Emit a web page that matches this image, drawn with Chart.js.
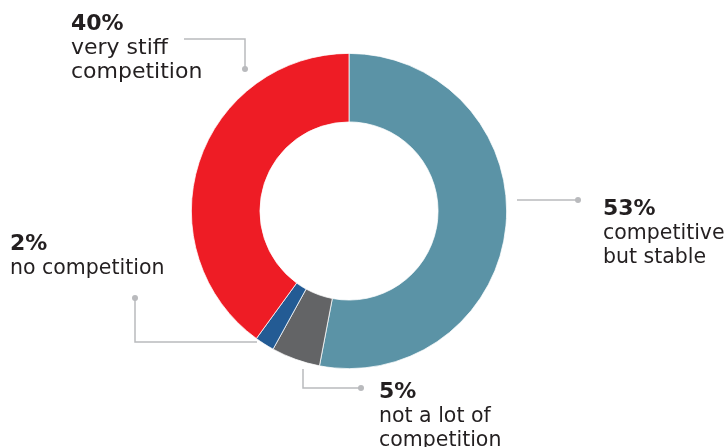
<!DOCTYPE html>
<html lang="en">
<head>
    <meta charset="UTF-8">
    <title>Competition</title>
    <script src="https://cdn.jsdelivr.net/npm/chart.js@4.4.1/dist/chart.umd.min.js"></script>
    <style>
        body {
            margin: 0;
            background: #fff;
        }
        #wrap {
            width: 727px;
            height: 447px;
        }
    </style>
</head>
<body>
    <div id="wrap">
        <canvas id="donut" width="727" height="447"></canvas>
    </div>

    <script>
        // survey answers, clockwise from 12 o'clock
        const categories = ['competitive but stable', 'not a lot of competition', 'no competition', 'very stiff competition'];
        const shares = [53, 5, 2, 40];
        const colors = ['#5b93a6', '#636466', '#235b94', '#ee1c25'];
        // text lines under each percentage
        const captions = [
            ['competitive', 'but stable'],
            ['not a lot of', 'competition'],
            ['no competition'],
            ['very stiff', 'competition']
        ];

        // callout placement relative to the donut centre
        const callouts = [
            { tx: 254, ty: 4, size: 20.5, leader: [[168, -11], [229, -11]] },
            { tx: 30, ty: 187, size: 20.5, leader: [[-46, 158], [-46, 177], [12, 177]] },
            { tx: -339, ty: 39, size: 20.5, leader: [[-92, 131], [-214, 131], [-214, 87]] },
            { tx: -278, ty: -181, size: 22, leader: [[-165, -172], [-104, -172], [-104, -142]] }
        ];

        const calloutPlugin = {
            id: 'callouts',
            afterDraw(chart) {
                const ctx = chart.ctx;
                const arc = chart.getDatasetMeta(0).data[0];
                const cx = arc.x, cy = arc.y;
                ctx.save();
                callouts.forEach((c, i) => {
                    // leader line ending in a dot
                    ctx.strokeStyle = '#b9babd';
                    ctx.lineWidth = 1.5;
                    ctx.beginPath();
                    c.leader.forEach(([dx, dy], k) => {
                        if (k === 0) ctx.moveTo(cx + dx, cy + dy);
                        else ctx.lineTo(cx + dx, cy + dy);
                    });
                    ctx.stroke();
                    const [ex, ey] = c.leader[c.leader.length - 1];
                    ctx.fillStyle = '#b9babd';
                    ctx.beginPath();
                    ctx.arc(cx + ex, cy + ey, 3, 0, Math.PI * 2);
                    ctx.fill();

                    // percentage + caption
                    const x = cx + c.tx, y = cy + c.ty;
                    ctx.fillStyle = '#231f20';
                    ctx.textBaseline = 'alphabetic';
                    ctx.textAlign = 'left';
                    ctx.font = 'bold 22px "DejaVu Sans"';
                    ctx.fillText(shares[i] + '%', x, y);
                    ctx.font = c.size + 'px "DejaVu Sans"';
                    captions[i].forEach((line, j) => {
                        ctx.fillText(line, x, y + 24 * (j + 1));
                    });
                });
                ctx.restore();
            }
        };

        new Chart(document.getElementById('donut'), {
            type: 'doughnut',
            data: {
                labels: categories,
                datasets: [{
                    data: shares,
                    backgroundColor: colors,
                    borderColor: '#ffffff',
                    borderWidth: 0.75,
                    hoverOffset: 0
                }]
            },
            options: {
                responsive: false,
                animation: false,
                devicePixelRatio: 1,
                cutout: '56.5%',
                layout: {
                    padding: { top: 53, bottom: 78, left: 0, right: 29 }
                },
                plugins: {
                    legend: { display: false },
                    tooltip: { enabled: false }
                }
            },
            plugins: [calloutPlugin]
        });
    </script>
</body>
</html>
